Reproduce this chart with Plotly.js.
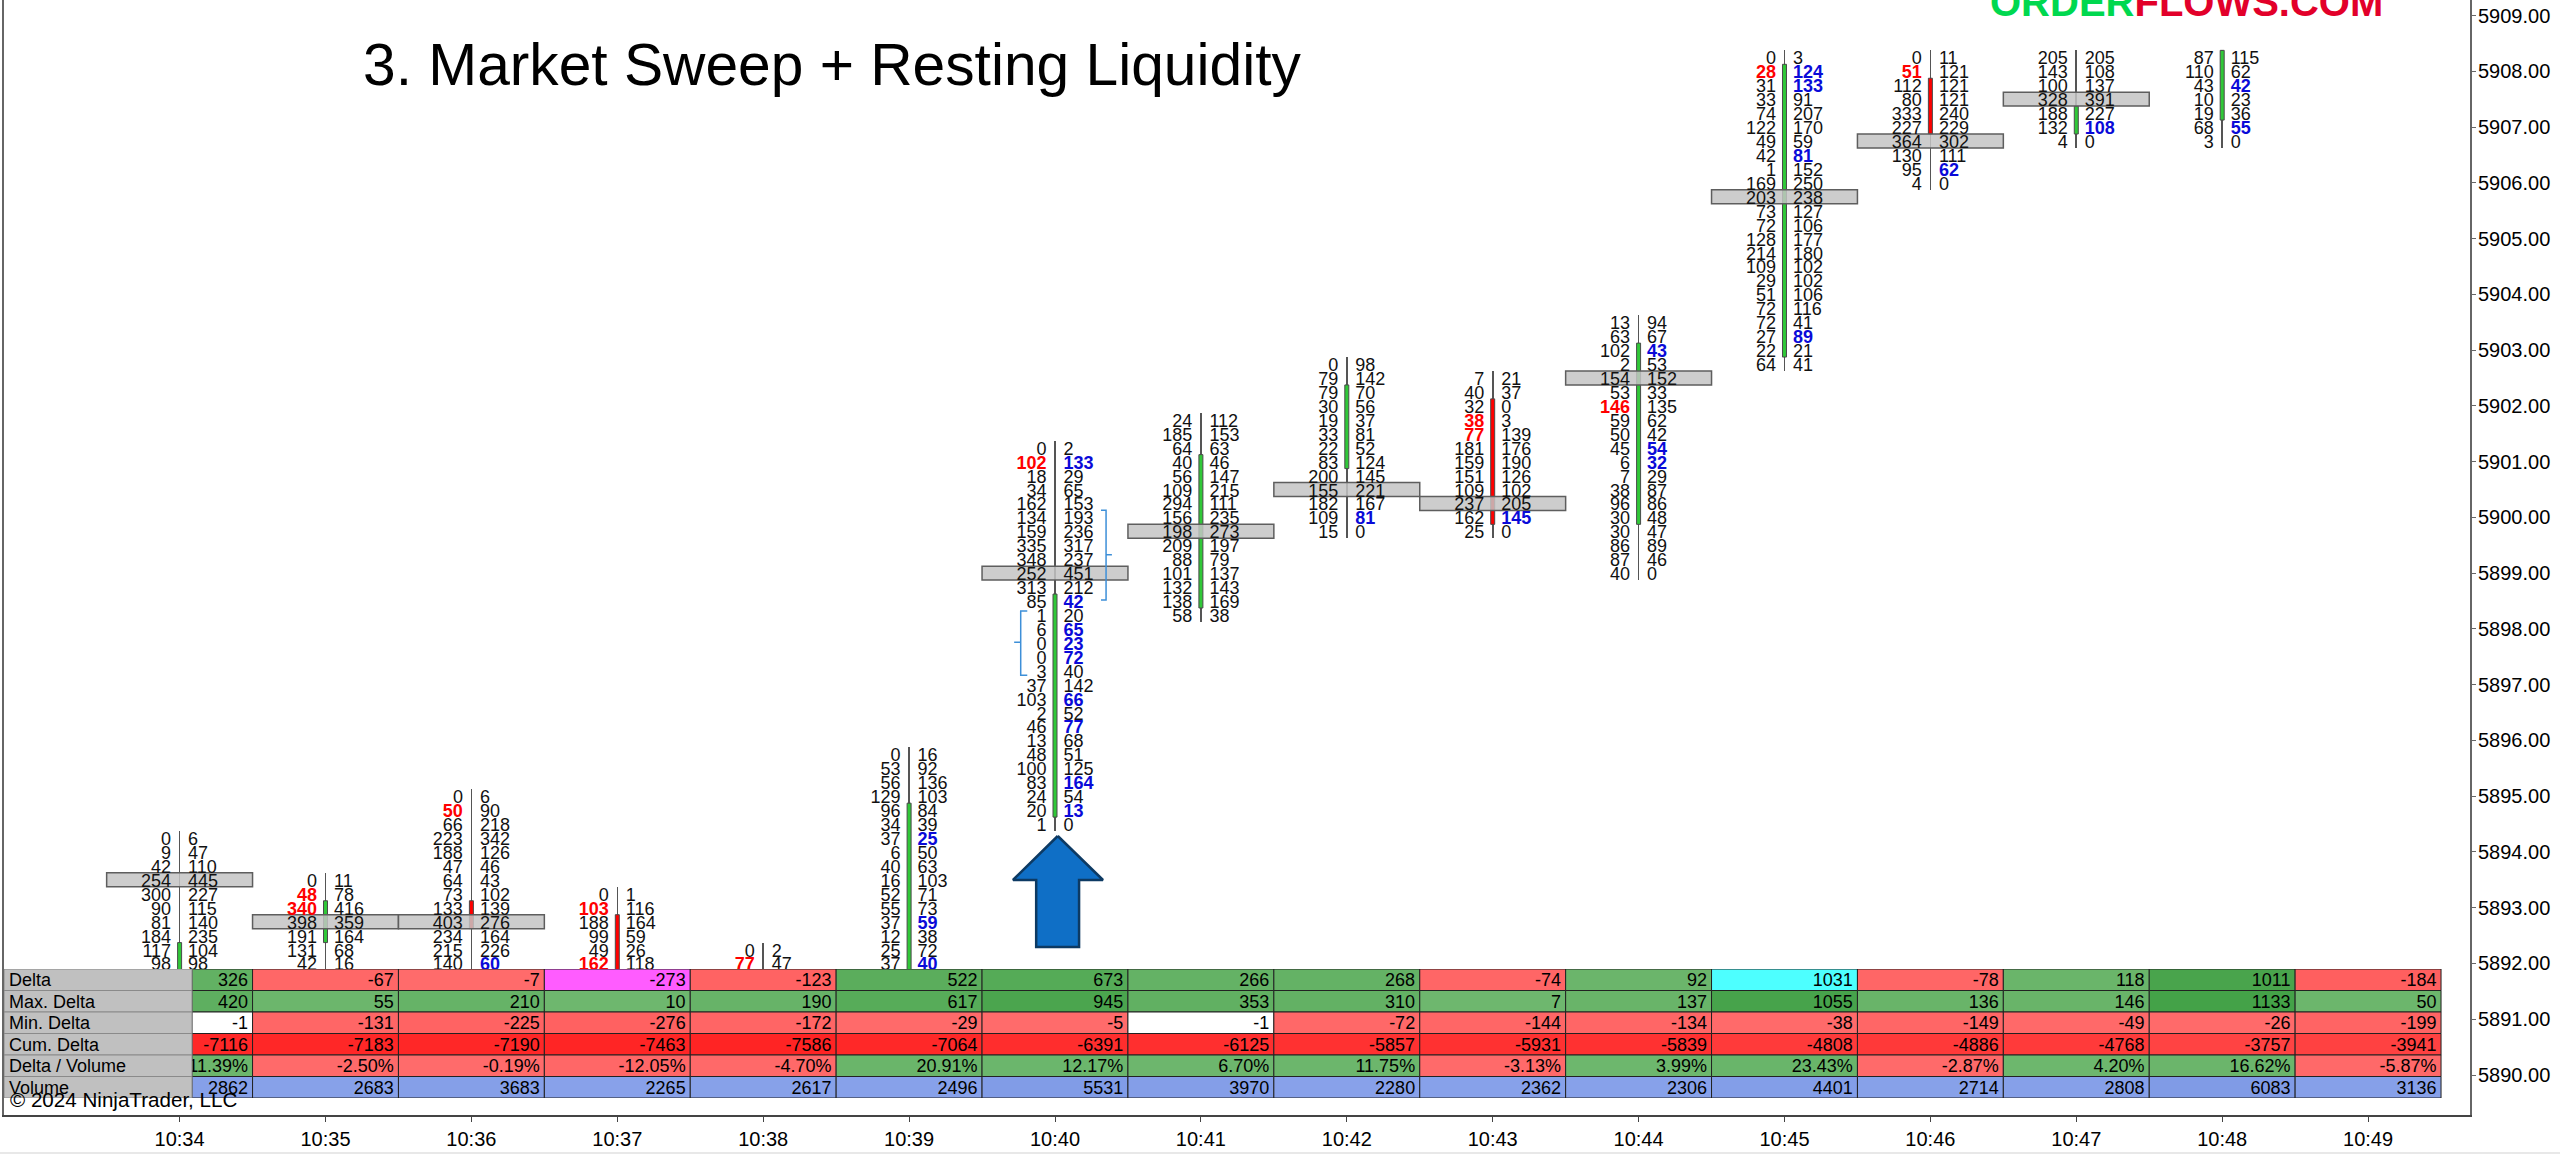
<!DOCTYPE html>
<html><head><meta charset="utf-8">
<script src="https://cdn.plot.ly/plotly-3.0.1.min.js"></script>
<style>html,body{margin:0;padding:0;background:#fff}</style></head>
<body><div id="chart" style="width:2560px;height:1154px"></div>
<script>
const timeLabels=['10:34','10:35','10:36','10:37','10:38','10:39','10:40','10:41','10:42','10:43','10:44','10:45','10:46','10:47','10:48','10:49'];
const topPrice=[5894.25,5893.5,5895,5893.25,5892.25,5895.75,5901.25,5901.75,5902.75,5902.5,5903.5,5908.25,5908.25,5908.25,5908.25];
const pocPrice=[5893.5,5892.75,5892.75,null,null,null,5899,5899.75,5900.5,5900.25,5902.5,5905.75,5906.75,5907.5,null];
const openP =[5891.5,5892.5,5893,5892.75,5891.5,5891.25,5894.75,5898.5,5901,5902,5900,5903,5907.75,5907,5907.25];
const closeP=[5892.25,5893,5892.75,5891.5,5891.25,5894.75,5898.5,5901,5902.25,5900,5903,5908,5907,5907.25,5908.25];
const highP =[5894.25,5893.5,5895,5893.25,5892.25,5895.75,5901.25,5901.75,5902.75,5902.5,5903.5,5908.25,5908.25,5908.25,5908.25];
const lowP  =[5891,5891.5,5891.5,5891.25,5891,5891,5894.5,5898.25,5899.75,5899.75,5899,5902.75,5906,5906.75,5906.75];

const bid1034=[0,9,42,254,300,90,81,184,117,98];
const ask1034=[6,47,110,445,227,115,140,235,104,98];
const bid1035=[0,48,340,398,191,131,42];
const ask1035=[11,78,416,359,164,68,16];
const bid1036=[0,50,66,223,188,47,64,73,133,403,234,215,140];
const ask1036=[6,90,218,342,126,46,43,102,139,276,164,226,60];
const bid1037=[0,103,188,99,49,162];
const ask1037=[1,116,164,59,26,118];
const bid1038=[0,77];
const ask1038=[2,47];
const bid1039=[0,53,56,129,96,34,37,6,40,16,52,55,37,12,25,37];
const ask1039=[16,92,136,103,84,39,25,50,63,103,71,73,59,38,72,40];
const bid1040=[0,102,18,34,162,134,159,335,348,252,313,85,1,6,0,0,3,37,103,2,46,13,48,100,83,24,20,1];
const ask1040=[2,133,29,65,153,193,236,317,237,451,212,42,20,65,23,72,40,142,66,52,77,68,51,125,164,54,13,0];
const bid1041=[24,185,64,40,56,109,294,156,198,209,88,101,132,138,58];
const ask1041=[112,153,63,46,147,215,111,235,273,197,79,137,143,169,38];
const bid1042=[0,79,79,30,19,33,22,83,200,155,182,109,15];
const ask1042=[98,142,70,56,37,81,52,124,145,221,167,81,0];
const bid1043=[7,40,32,38,77,181,159,151,109,237,162,25];
const ask1043=[21,37,0,3,139,176,190,126,102,205,145,0];
const bid1044=[13,63,102,2,154,53,146,59,50,45,6,7,38,96,30,30,86,87,40];
const ask1044=[94,67,43,53,152,33,135,62,42,54,32,29,87,86,48,47,89,46,0];
const bid1045=[0,28,31,33,74,122,49,42,1,169,203,73,72,128,214,109,29,51,72,72,27,22,64];
const ask1045=[3,124,133,91,207,170,59,81,152,250,238,127,106,177,180,102,102,106,116,41,89,21,41];
const bid1046=[0,51,112,80,333,227,364,130,95,4];
const ask1046=[11,121,121,121,240,229,302,111,62,0];
const bid1047=[205,143,100,328,188,132,4];
const ask1047=[205,108,137,391,227,108,0];
const bid1048=[87,110,43,10,19,68,3];
const ask1048=[115,62,42,23,36,55,0];
const bids=[bid1034,bid1035,bid1036,bid1037,bid1038,bid1039,bid1040,bid1041,bid1042,bid1043,bid1044,bid1045,bid1046,bid1047,bid1048];
const asks=[ask1034,ask1035,ask1036,ask1037,ask1038,ask1039,ask1040,ask1041,ask1042,ask1043,ask1044,ask1045,ask1046,ask1047,ask1048];

const redBidPrices=[[],[5893.25,5893],[5894.75],[5893,5892],[5892],[],[5901],[],[],[5901.75,5901.5],[5902],[5908],[5908],[],[]];
const blueAskPrices=[[],[],[5892],[],[],[5894.25,5892.75,5892],[5901,5898.5,5898,5897.75,5897.5,5896.75,5896.25,5895.25,5894.75],[],[5900],[5900],[5903,5901.25,5901],[5908,5907.75,5906.5,5903.25],[5906.25],[5907],[5907.75,5907]];

const rowNames=['Delta','Max. Delta','Min. Delta','Cum. Delta','Delta / Volume','Volume'];
const deltaRow=[326,-67,-7,-273,-123,522,673,266,268,-74,92,1031,-78,118,1011,-184];
const maxDeltaRow=[420,55,210,10,190,617,945,353,310,7,137,1055,136,146,1133,50];
const minDeltaRow=[-1,-131,-225,-276,-172,-29,-5,-1,-72,-144,-134,-38,-149,-49,-26,-199];
const cumDeltaRow=[-7116,-7183,-7190,-7463,-7586,-7064,-6391,-6125,-5857,-5931,-5839,-4808,-4886,-4768,-3757,-3941];
const deltaVolRow=[11.39,-2.50,-0.19,-12.05,-4.70,20.91,12.17,6.70,11.75,-3.13,3.99,23.43,-2.87,4.20,16.62,-5.87];
const volumeRow=[2862,2683,3683,2265,2617,2496,5531,3970,2280,2362,2306,4401,2714,2808,6083,3136];

const arrowX=[6.019,6.329,6.165,6.165,5.871,5.871,5.712,6.019];
const arrowY=[5894.286,5893.497,5893.497,5892.296,5892.296,5893.497,5893.497,5894.286];
const bracketAX=[6.315,6.35,6.35,6.39,6.35,6.35,6.315];
const bracketAY=[5900.13,5900.13,5899.33,5899.33,5899.33,5898.52,5898.52];
const bracketBX=[5.81,5.765,5.765,5.72,5.765,5.765,5.81];
const bracketBY=[5898.32,5898.32,5897.76,5897.76,5897.76,5897.17,5897.17];

const FONT='"Liberation Sans",Arial,sans-serif';
const PX=145.9, TICK=0.25, HALF=TICK/2, PY=55.76;
const idx=topPrice.map((_,i)=>i);

/* footprint text */
const t={bk:{x:[],y:[],t:[]},br:{x:[],y:[],t:[]},ak:{x:[],y:[],t:[]},ab:{x:[],y:[],t:[]}};
const gap=8.5/PX, drop=2.5/PY;
bids.forEach((col,i)=>col.forEach((v,k)=>{
  const p=topPrice[i]-k*TICK;
  const red=redBidPrices[i].includes(p);
  const d=red?t.br:t.bk; d.x.push(i-gap); d.y.push(p-drop); d.t.push(String(v));
  const a=asks[i][k], blue=blueAskPrices[i].includes(p);
  const e=blue?t.ab:t.ak; e.x.push(i+gap); e.y.push(p-drop); e.t.push(String(a));
}));
function txt(d,pos,color,weight){return {type:'scatter',mode:'text',x:d.x,y:d.y,text:d.t,textposition:pos,
  textfont:{family:FONT,size:18,color:color,weight:weight},hoverinfo:'skip',cliponaxis:false};}

const wick={type:'bar',x:idx,base:lowP.map(l=>l-HALF),y:highP.map((h,i)=>h-lowP[i]+TICK),width:1.6/PX,
  marker:{color:'#555555',line:{width:0}},hoverinfo:'skip'};
const body={type:'bar',x:idx,base:idx.map(i=>Math.min(openP[i],closeP[i])-HALF),
  y:idx.map(i=>Math.abs(closeP[i]-openP[i])+TICK),width:4/PX,
  marker:{color:idx.map(i=>closeP[i]>=openP[i]?'#30c838':'#ff0000'),line:{width:1,color:'#4a4a4a'}},hoverinfo:'skip'};
const pocIdx=idx.filter(i=>pocPrice[i]!==null);
const poc={type:'bar',x:pocIdx,base:pocIdx.map(i=>pocPrice[i]-HALF),y:pocIdx.map(()=>TICK),width:1,
  marker:{color:'rgba(196,196,196,0.85)',line:{width:1.5,color:'#5e5e5e'}},hoverinfo:'skip'};
const arrow={type:'scatter',mode:'lines',x:arrowX,y:arrowY,fill:'toself',fillcolor:'#0f6fc6',
  line:{color:'#0d3a63',width:2.5},hoverinfo:'skip'};
const brA={type:'scatter',mode:'lines',x:bracketAX,y:bracketAY,line:{color:'#3d8fd8',width:1.5},hoverinfo:'skip'};
const brB={type:'scatter',mode:'lines',x:bracketBX,y:bracketBY,line:{color:'#3d8fd8',width:1.5},hoverinfo:'skip'};

/* table */
function mix(a,b,f){f=Math.min(1,Math.abs(f));return 'rgb('+a.map((c,j)=>Math.round(c+(b[j]-c)*f)).join(',')+')';}
const G0=[110,183,110],G1=[68,162,72],R0=[255,107,107],R1=[255,36,36],B0=[140,165,236],B1=[128,155,230];
function shade(v,scale){return v>=0?mix(G0,G1,v/scale):mix(R0,R1,v/scale);}
const rows=[deltaRow,maxDeltaRow,minDeltaRow,cumDeltaRow,deltaVolRow,volumeRow];
const cellX=[],cellW=[],cellB=[],cellC=[],valX=[],valY=[],valT=[];
const FIRST_LEFT=(192-179.6)/PX;
rows.forEach((row,r)=>row.forEach((v,i)=>{
  const left=i===0?FIRST_LEFT:i-0.5, right=i+0.5;
  cellX.push((left+right)/2); cellW.push(right-left); cellB.push(r);
  let c;
  if(r===0&&v===Math.max(...row)) c='#4dffff';
  else if(r===0&&v===-273) c='#ff5cff';
  else if(r===2&&v===-1) c='#ffffff';
  else if(r===0||r===1) c=shade(v,1133);
  else if(r===2) c=shade(v,2000);
  else if(r===3) c=mix(R0,R1,Math.pow(Math.abs(v)/7600,0.8));
  else if(r===4) c=shade(v,200);
  else c=mix(B0,B1,v/6083);
  cellC.push(c);
  valX.push(right-4.6/PX); valY.push(r+0.6);
  valT.push(r===4?v.toFixed(2)+'%':String(v));
}));
const cells={type:'bar',x:cellX,base:cellB,y:cellB.map(()=>1),width:cellW,xaxis:'x',yaxis:'y2',
  marker:{color:cellC,line:{width:1,color:'#222222'}},hoverinfo:'skip'};
const values={type:'scatter',mode:'text',x:valX,y:valY,text:valT,xaxis:'x',yaxis:'y2',textposition:'middle left',
  textfont:{family:FONT,size:18,color:'#000'},hoverinfo:'skip'};
const LEFT=-1.2036;
const labelCells={type:'bar',x:rowNames.map(()=>(LEFT+FIRST_LEFT)/2),base:rowNames.map((_,r)=>r),y:rowNames.map(()=>1),
  width:FIRST_LEFT-LEFT,xaxis:'x',yaxis:'y3',marker:{color:'#c0c0c0',line:{width:1,color:'#8a8a8a'}},hoverinfo:'skip'};
const labelText={type:'scatter',mode:'text',x:rowNames.map(()=>(9-179.6)/PX),y:rowNames.map((_,r)=>r+0.6),text:rowNames,
  xaxis:'x',yaxis:'y3',textposition:'middle right',textfont:{family:FONT,size:18,color:'#000'},hoverinfo:'skip'};

const data=[wick,body,poc,brA,brB,arrow,txt(t.bk,'middle left','#111111','normal'),txt(t.br,'middle left','#ff0000','bold'),
  txt(t.ak,'middle right','#111111','normal'),txt(t.ab,'middle right','#0a0ad8','bold'),cells,values,labelCells,labelText];

const H=1115;
const layout={width:2560,height:1154,margin:{l:4,r:90,t:0,b:39,pad:0},paper_bgcolor:'#fff',plot_bgcolor:'rgba(0,0,0,0)',
  showlegend:false,barmode:'overlay',bargap:0,
  title:{text:'3. Market Sweep + Resting Liquidity',x:363/2560,xref:'container',xanchor:'left',y:1-64/1154,yref:'container',yanchor:'middle',
    font:{family:FONT,size:58.7,color:'#000'}},
  xaxis:{range:[LEFT,15.6985],tickvals:timeLabels.map((_,i)=>i),ticktext:timeLabels,showgrid:false,zeroline:false,
    showline:true,linecolor:'#444',linewidth:2,ticks:'outside',ticklen:5,tickcolor:'#444',tickfont:{family:FONT,size:20,color:'#000'},anchor:'y'},
  yaxis:{range:[5889.283,5909.278],side:'right',tick0:5890,dtick:1,tickformat:'.2f',showgrid:false,zeroline:false,
    showline:true,mirror:true,linecolor:'#666',linewidth:2,ticks:'outside',ticklen:4,tickcolor:'#666',ticklabelstandoff:-2,
    tickfont:{family:FONT,size:20,color:'#000'},domain:[0,1],anchor:'x'},
  yaxis2:{domain:[(H-1098)/H,(H-969)/H],range:[6,0],visible:false,anchor:'x',fixedrange:true},
  yaxis3:{domain:[(H-1098)/H,(H-969)/H],range:[6,0],visible:false,anchor:'x',fixedrange:true},
  annotations:[
    {xref:'paper',yref:'paper',x:(8-4)/2466,y:1-1099/H,xanchor:'left',yanchor:'middle',showarrow:false,
     text:'© 2024 NinjaTrader, LLC',font:{family:FONT,size:20.6,color:'#000'}},
    {xref:'paper',yref:'paper',x:(2186-4)/2466,y:1-2/H,xanchor:'center',yanchor:'middle',showarrow:false,
     text:'<span style="color:#00d84f">ORDER</span><span style="color:#e2002a">FLOWS.COM</span>',
     font:{family:'"Liberation Sans",sans-serif',size:40,weight:'bold',color:'#e2002a'}}
  ],
  shapes:[{type:'rect',xref:'paper',yref:'paper',x0:-4/2466,x1:2556/2466,y0:-39/H,y1:-37/H,fillcolor:'#e8e8e8',line:{width:0}}]
};
Plotly.newPlot('chart',data,layout,{displayModeBar:false,staticPlot:true});
</script></body></html>
